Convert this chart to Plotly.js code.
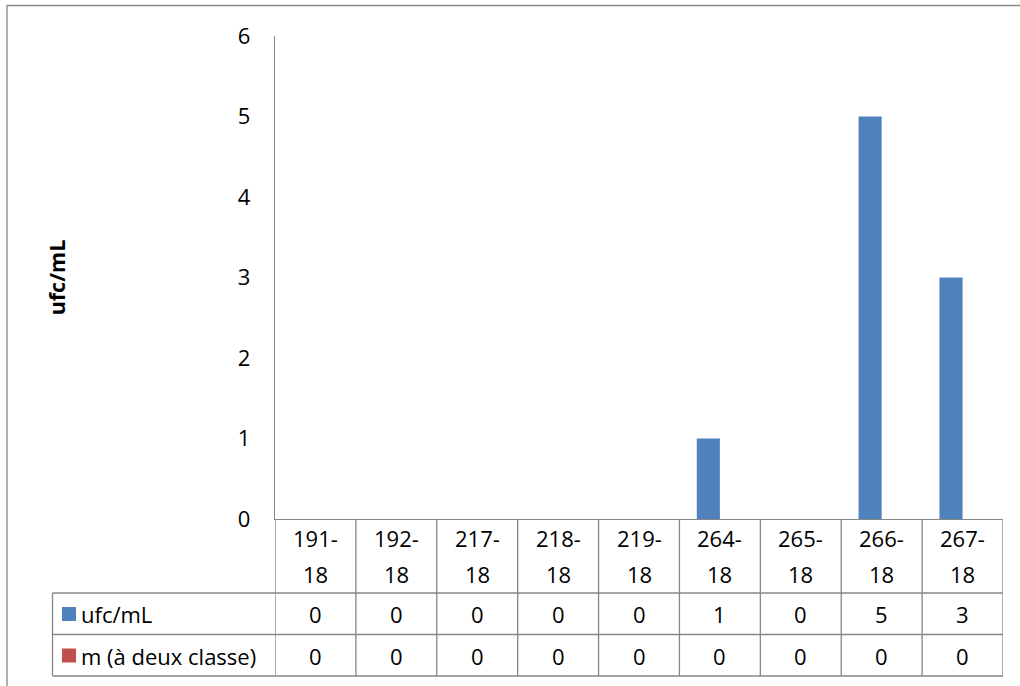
<!DOCTYPE html>
<html>
<head>
<meta charset="utf-8">
<script src="https://cdn.plot.ly/plotly-3.0.1.min.js"></script>
<style>html,body{margin:0;padding:0;background:#fff;}#chart{width:1020px;height:686px;}</style>
</head>
<body>
<div id="chart"></div>
<script>
const categories = ['191-18','192-18','217-18','218-18','219-18','264-18','265-18','266-18','267-18'];
const seriesNames = ['ufc/mL','m (à deux classe)'];
const ufcValues = [0,0,0,0,0,1,0,5,3];
const mValues = [0,0,0,0,0,0,0,0,0];
const seriesColors = ['#4F81BD','#C0504D'];
const yTickVals = [0,1,2,3,4,5,6];

const W = 1020, H = 686;
const L = 275, R = 17, T = 36, B = 167;
const PW = W - L - R, PH = H - T - B;
const px = x => (x - L) / PW;           // pixel x -> paper x
const py = y => (H - B - y) / PH;       // pixel y -> paper y
const FONT = '"Open Sans", "Liberation Sans", sans-serif';
const GRID = '#878787';
const FS = 22;

const allSeries = [ufcValues, mValues];

const traces = allSeries.map((vals, k) => ({
  type: 'bar',
  x: categories,
  y: vals,
  name: seriesNames[k],
  marker: {color: seriesColors[k]},
  showlegend: false,
  hoverinfo: 'x+y+name'
}));

const shapes = [];
const annotations = [];
const n = categories.length;

// outer chart border
shapes.push({type:'rect', xref:'paper', yref:'paper', x0:px(7), x1:px(1040), y0:py(5.5), y1:py(720), line:{color:GRID, width:1.3}, fillcolor:'rgba(0,0,0,0)', layer:'below'});

// horizontal table lines
const yHeaderBottom = 593, yRow1Bottom = 634.5, yRow2Bottom = 676;
const xLeftCol = 52.5;
[yHeaderBottom, yRow1Bottom, yRow2Bottom].forEach(yy => {
  shapes.push({type:'line', xref:'paper', yref:'paper', x0:px(xLeftCol), x1:1, y0:py(yy), y1:py(yy), line:{color:GRID, width:1.3}});
});
// vertical table lines at category boundaries
for (let i = 0; i <= n; i++) {
  shapes.push({type:'line', xref:'x', yref:'paper', x0:i-0.5, x1:i-0.5, y0:0, y1:py(yRow2Bottom), line:{color:GRID, width:1.3}});
}
// left column border
shapes.push({type:'line', xref:'paper', yref:'paper', x0:px(xLeftCol), x1:px(xLeftCol), y0:py(yHeaderBottom), y1:py(yRow2Bottom), line:{color:GRID, width:1.3}});

// header labels (two lines)
categories.forEach((c, i) => {
  const parts = c.split('-');
  annotations.push({xref:'x', yref:'paper', x:i, y:py(538), text:parts[0] + '-', showarrow:false, font:{family:FONT, size:FS, color:'#000'}, xanchor:'center', yanchor:'middle'});
  annotations.push({xref:'x', yref:'paper', x:i, y:py(574), text:parts[1], showarrow:false, font:{family:FONT, size:FS, color:'#000'}, xanchor:'center', yanchor:'middle'});
});

// data rows
const rowCenters = [614, 655.5];
allSeries.forEach((vals, k) => {
  vals.forEach((v, i) => {
    annotations.push({xref:'x', yref:'paper', x:i, y:py(rowCenters[k]), text:String(v), showarrow:false, font:{family:FONT, size:FS, color:'#000'}, xanchor:'center', yanchor:'middle'});
  });
  // legend key
  shapes.push({type:'rect', xref:'paper', yref:'paper', x0:px(62), x1:px(76), y0:py(rowCenters[k]-7), y1:py(rowCenters[k]+7), fillcolor:seriesColors[k], line:{width:0}});
  annotations.push({xref:'paper', yref:'paper', x:px(79), y:py(rowCenters[k]), text:seriesNames[k], showarrow:false, font:{family:FONT, size:FS, color:'#000'}, xanchor:'left', yanchor:'middle'});
});

const layout = {
  width: W, height: H,
  margin: {l:L, r:R, t:T, b:B, pad:0},
  paper_bgcolor: '#fff', plot_bgcolor: '#fff',
  barmode: 'group', bargap: 1.5/3.5, bargroupgap: 0,
  showlegend: false,
  font: {family: FONT, size: FS, color: '#000'},
  xaxis: {type:'category', range:[-0.5, n-0.5], showticklabels:false, ticks:'', showgrid:false, zeroline:false, showline:true, linecolor:GRID, linewidth:1.3, fixedrange:true},
  yaxis: {range:[0,6], tickvals:yTickVals, ticks:'', ticklabelstandoff:19, showgrid:false, zeroline:false, showline:true, linecolor:GRID, linewidth:1.3,
          tickfont:{family:FONT, size:22, color:'#000'},
          title:{text:'<b>ufc/mL</b>', font:{family:FONT, size:21.5, color:'#000'}, standoff:166}, automargin:false, fixedrange:true},
  shapes: shapes,
  annotations: annotations
};

Plotly.newPlot('chart', traces, layout, {displayModeBar:false, staticPlot:true});
</script>
</body>
</html>
